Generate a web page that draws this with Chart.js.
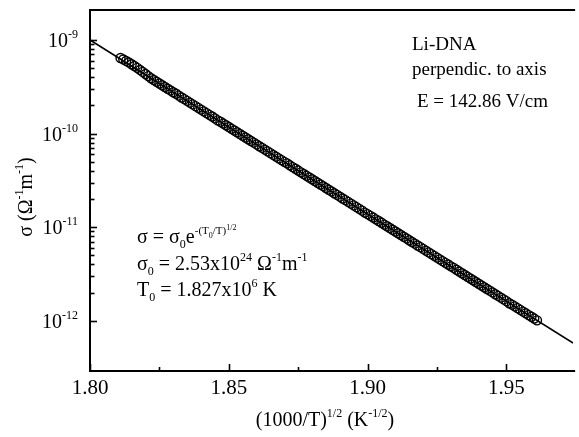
<!DOCTYPE html>
<html>
<head>
<meta charset="utf-8">
<script src="https://cdn.jsdelivr.net/npm/chart.js@4/dist/chart.umd.min.js"></script>
<style>
  html, body { margin: 0; padding: 0; background: #fff; overflow: hidden; }
  canvas { display: block; }
</style>
</head>
<body>
<canvas id="c" width="579" height="437"></canvas>
<script>
// (1000/T)^1/2 in K^-1/2 for each measured point
const rootInvT = [
  1.811,1.812,1.813,1.814,1.815,1.816,1.817,1.818,1.819,1.820,
  1.821,1.822,1.823,1.824,1.825,1.826,1.827,1.828,1.829,1.830,
  1.831,1.832,1.833,1.834,1.835,1.836,1.837,1.838,1.839,1.840,
  1.841,1.842,1.843,1.844,1.845,1.846,1.847,1.848,1.849,1.850,
  1.851,1.852,1.853,1.854,1.855,1.856,1.857,1.858,1.859,1.860,
  1.861,1.862,1.863,1.864,1.865,1.866,1.867,1.868,1.869,1.870,
  1.871,1.872,1.873,1.874,1.875,1.876,1.877,1.878,1.879,1.880,
  1.881,1.882,1.883,1.884,1.885,1.886,1.887,1.888,1.889,1.890,
  1.891,1.892,1.893,1.894,1.895,1.896,1.897,1.898,1.899,1.900,
  1.901,1.902,1.903,1.904,1.905,1.906,1.907,1.908,1.909,1.910,
  1.911,1.912,1.913,1.914,1.915,1.916,1.917,1.918,1.919,1.920,
  1.921,1.922,1.923,1.924,1.925,1.926,1.927,1.928,1.929,1.930,
  1.931,1.932,1.933,1.934,1.935,1.936,1.937,1.938,1.939,1.940,
  1.941,1.942,1.943,1.944,1.945,1.946,1.947,1.948,1.949,1.950,
  1.951,1.952,1.953,1.954,1.955,1.956,1.957,1.958,1.959,1.960,
  1.961
];

// log10 of the conductivity sigma (Ohm^-1 m^-1) at each point
const logSigma = [
  -9.193,-9.208,-9.224,-9.240,-9.259,-9.278,-9.298,-9.320,-9.341,-9.364,
  -9.386,-9.409,-9.428,-9.446,-9.465,-9.484,-9.502,-9.521,-9.539,-9.558,
  -9.574,-9.595,-9.614,-9.632,-9.651,-9.670,-9.688,-9.707,-9.725,-9.744,
  -9.763,-9.781,-9.800,-9.818,-9.837,-9.859,-9.874,-9.893,-9.911,-9.930,
  -9.949,-9.967,-9.986,-10.004,-10.023,-10.042,-10.060,-10.079,-10.097,-10.116,
  -10.135,-10.153,-10.172,-10.190,-10.209,-10.228,-10.246,-10.265,-10.283,-10.302,
  -10.318,-10.339,-10.358,-10.376,-10.395,-10.414,-10.432,-10.451,-10.469,-10.488,
  -10.507,-10.525,-10.544,-10.562,-10.581,-10.600,-10.618,-10.637,-10.655,-10.674,
  -10.693,-10.711,-10.730,-10.748,-10.767,-10.786,-10.804,-10.823,-10.844,-10.860,
  -10.879,-10.897,-10.916,-10.934,-10.953,-10.972,-10.990,-11.009,-11.027,-11.046,
  -11.065,-11.083,-11.102,-11.120,-11.139,-11.158,-11.176,-11.195,-11.213,-11.232,
  -11.251,-11.269,-11.288,-11.306,-11.325,-11.344,-11.362,-11.381,-11.399,-11.418,
  -11.434,-11.455,-11.474,-11.492,-11.511,-11.530,-11.548,-11.567,-11.585,-11.604,
  -11.623,-11.641,-11.660,-11.678,-11.697,-11.716,-11.734,-11.753,-11.771,-11.790,
  -11.812,-11.827,-11.846,-11.864,-11.883,-11.902,-11.920,-11.939,-11.957,-11.976,
  -11.995
];

// VRH fit sigma = sigma0 exp(-(T0/T)^1/2), end points of the drawn line
const fitX = [1.800, 1.974];
const fitSigma = [1.0e-9, 5.8e-13];

// axis ticks
const xMajor = [1.80, 1.85, 1.90, 1.95];
const xMajorLabels = ['1.80', '1.85', '1.90', '1.95'];
const xMinor = [1.825, 1.875, 1.925];
const yDecades = [-9, -10, -11, -12];

const X_MIN = 1.80, X_MAX = 1.974;
const Y_MIN = 2.91e-13, Y_MAX = 2.09e-9;

const FONT = '"Liberation Serif", "Times New Roman", serif';

const measured = rootInvT.map((x, i) => ({ x, y: Math.pow(10, logSigma[i]) }));
const fitLine = fitX.map((x, i) => ({ x, y: fitSigma[i] }));

// Draw a run of text pieces, each with its own size and vertical shift.
function richText(ctx, pieces, x, y, align) {
  let total = 0;
  const widths = pieces.map(p => {
    ctx.font = p.s + 'px ' + FONT;
    const w = ctx.measureText(p.t).width;
    total += w;
    return w;
  });
  let cx = align === 'right' ? x - total : align === 'center' ? x - total / 2 : x;
  ctx.textAlign = 'left';
  ctx.textBaseline = 'alphabetic';
  pieces.forEach((p, i) => {
    ctx.font = p.s + 'px ' + FONT;
    ctx.fillText(p.t, cx, y + (p.dy || 0));
    cx += widths[i];
  });
}

const frame = {
  id: 'frame',
  afterDraw(chart) {
    const ctx = chart.ctx;
    const xs = chart.scales.x, ys = chart.scales.y;
    const a = chart.chartArea;
    ctx.save();
    ctx.strokeStyle = '#000';
    ctx.fillStyle = '#000';

    // left, top and bottom axis lines
    ctx.lineWidth = 2;
    ctx.beginPath();
    ctx.moveTo(a.right + 2, a.top);
    ctx.lineTo(a.left, a.top);
    ctx.lineTo(a.left, a.bottom);
    ctx.lineTo(a.right + 2, a.bottom);
    ctx.stroke();

    // y ticks: decades long, 2..9 short, pointing inwards
    ctx.lineWidth = 1.6;
    yDecades.forEach(e => {
      for (let m = 1; m <= 9; m++) {
        const v = m * Math.pow(10, e);
        if (v < Y_MIN || v > Y_MAX) continue;
        const py = Math.round(ys.getPixelForValue(v)) + 0.5;
        if (py < a.top + 3) continue;
        ctx.beginPath();
        ctx.moveTo(a.left, py);
        ctx.lineTo(a.left + (m === 1 ? 7 : 4.5), py);
        ctx.stroke();
      }
    });
    // minors in the decade above 1e-9
    for (let m = 2; m <= 9; m++) {
      const v = m * 1e-9;
      if (v > Y_MAX) break;
      const py = Math.round(ys.getPixelForValue(v)) + 0.5;
      if (py < a.top + 3) continue;
      ctx.beginPath(); ctx.moveTo(a.left, py); ctx.lineTo(a.left + 4.5, py); ctx.stroke();
    }

    // x ticks pointing up
    xMajor.forEach(v => {
      const px = Math.round(xs.getPixelForValue(v)) + 0.5;
      ctx.beginPath(); ctx.moveTo(px, a.bottom); ctx.lineTo(px, a.bottom - 7); ctx.stroke();
    });
    xMinor.forEach(v => {
      const px = Math.round(xs.getPixelForValue(v)) + 0.5;
      ctx.beginPath(); ctx.moveTo(px, a.bottom); ctx.lineTo(px, a.bottom - 4); ctx.stroke();
    });

    // x tick labels
    xMajor.forEach((v, i) => {
      richText(ctx, [{ t: xMajorLabels[i], s: 21 }], xs.getPixelForValue(v), a.bottom + 23, 'center');
    });

    // y tick labels 10^e
    yDecades.forEach(e => {
      const py = ys.getPixelForValue(Math.pow(10, e));
      richText(ctx, [{ t: '10', s: 20 }, { t: String(e), s: 12, dy: -9 }], a.left - 12, py + 7, 'right');
    });

    // x axis title
    richText(ctx, [
      { t: '(1000/T)', s: 20 }, { t: '1/2', s: 12, dy: -9 },
      { t: ' (K', s: 20 }, { t: '-1/2', s: 12, dy: -9 }, { t: ')', s: 20 }
    ], 325, 426, 'center');

    // y axis title, rotated
    ctx.save();
    ctx.translate(32, 197);
    ctx.rotate(-Math.PI / 2);
    richText(ctx, [
      { t: '\u03C3 (\u03A9', s: 20 }, { t: '-1', s: 12, dy: -9 },
      { t: 'm', s: 20 }, { t: '-1', s: 12, dy: -9 }, { t: ')', s: 20 }
    ], 0, 0, 'center');
    ctx.restore();

    // sample notes, upper right
    richText(ctx, [{ t: 'Li-DNA', s: 19 }], 412, 50, 'left');
    richText(ctx, [{ t: 'perpendic. to axis', s: 19 }], 412, 75, 'left');
    richText(ctx, [{ t: 'E = 142.86 V/cm', s: 19 }], 417, 107, 'left');

    // fit parameters, lower left
    const lx = 137;
    richText(ctx, [
      { t: '\u03C3 = \u03C3', s: 20 }, { t: '0', s: 12, dy: 5 }, { t: 'e', s: 20 },
      { t: '-(T', s: 11, dy: -9 }, { t: '0', s: 8, dy: -5 }, { t: '/T)', s: 11, dy: -9 },
      { t: '1/2', s: 8, dy: -13 }
    ], lx, 243, 'left');
    richText(ctx, [
      { t: '\u03C3', s: 20 }, { t: '0', s: 12, dy: 5 }, { t: ' = 2.53x10', s: 20 },
      { t: '24', s: 12, dy: -9 }, { t: ' \u03A9', s: 20 }, { t: '-1', s: 12, dy: -9 },
      { t: 'm', s: 20 }, { t: '-1', s: 12, dy: -9 }
    ], lx, 270, 'left');
    richText(ctx, [
      { t: 'T', s: 20 }, { t: '0', s: 12, dy: 5 }, { t: ' = 1.827x10', s: 20 },
      { t: '6', s: 12, dy: -9 }, { t: ' K', s: 20 }
    ], lx, 296, 'left');

    ctx.restore();
  }
};

new Chart(document.getElementById('c'), {
  type: 'scatter',
  data: {
    datasets: [
      {
        label: 'fit',
        data: fitLine,
        showLine: true,
        borderColor: '#000',
        borderWidth: 1.6,
        pointRadius: 0,
        order: 2
      },
      {
        label: 'measured',
        data: measured,
        showLine: false,
        pointStyle: 'circle',
        pointRadius: 4.5,
        pointBorderWidth: 1.4,
        pointBorderColor: '#000',
        pointBackgroundColor: 'rgba(255,255,255,0)',
        order: 1
      }
    ]
  },
  options: {
    responsive: false,
    animation: false,
    devicePixelRatio: 1,
    layout: { padding: { left: 90, top: 10, right: 0, bottom: 66 } },
    plugins: { legend: { display: false }, tooltip: { enabled: false } },
    scales: {
      x: { type: 'linear', min: X_MIN, max: X_MAX, display: false },
      y: { type: 'logarithmic', min: Y_MIN, max: Y_MAX, display: false }
    }
  },
  plugins: [frame]
});
</script>
</body>
</html>
